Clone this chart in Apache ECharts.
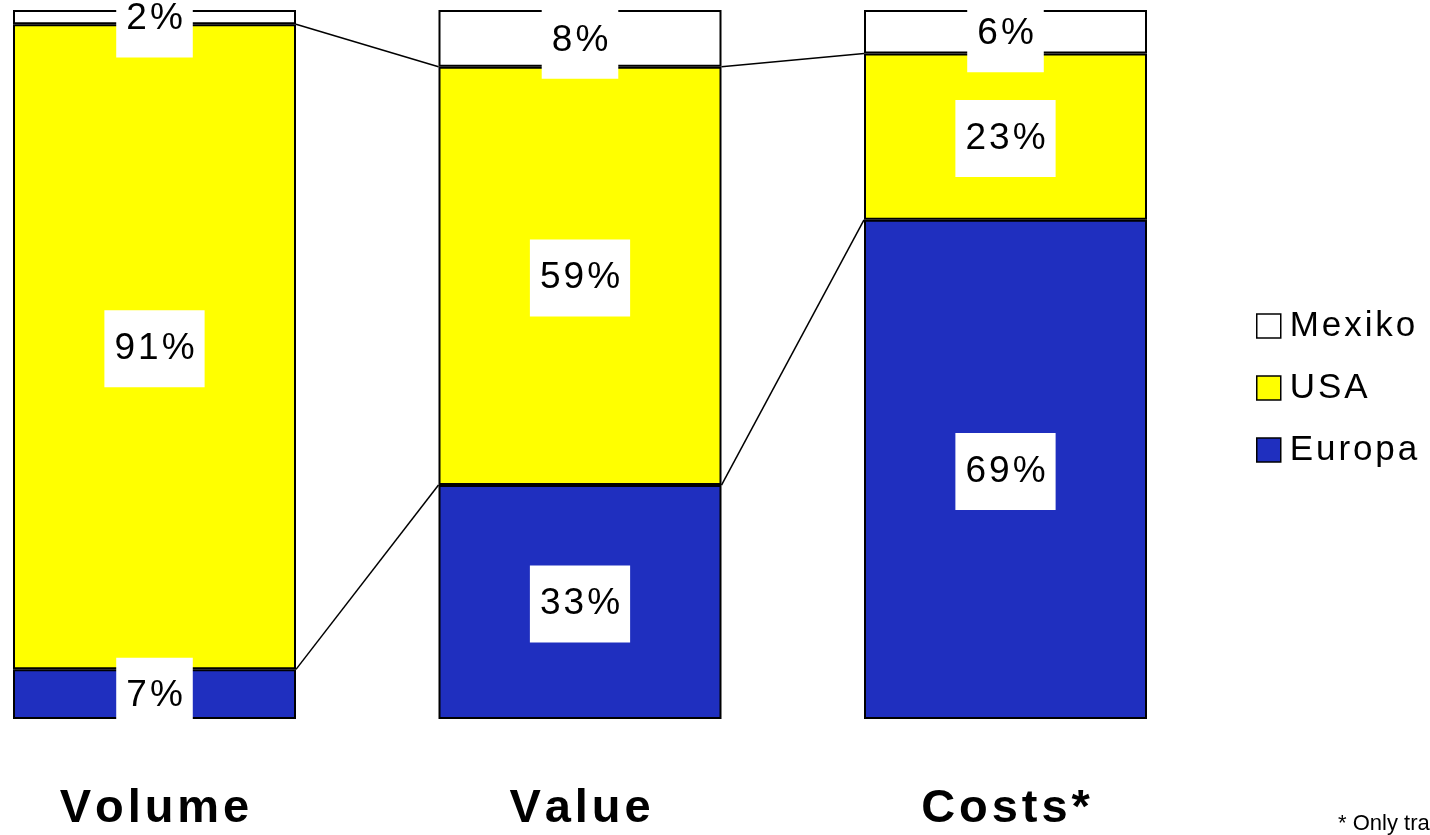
<!DOCTYPE html>
<html>
<head>
<meta charset="utf-8">
<script src="https://cdn.jsdelivr.net/npm/echarts@6/dist/echarts.min.js"></script>
<style>
  html, body { margin: 0; padding: 0; background: #fff; }
  #chart { width: 1430px; height: 835px; }
</style>
</head>
<body>
<div id="chart"></div>
<script>
// Shares per region (percent), one entry per category
const categories = ['Volume', 'Value', 'Costs*'];
const europa = [7, 33, 69];
const usa = [91, 59, 23];
const mexiko = [2, 8, 6];
const footnote = '* Only transport costs';

const FONT = '"Liberation Sans", Arial, sans-serif';
const BAR_W = 283;
const COLORS = { Europa: '#1f2fbf', USA: '#ffff00', Mexiko: '#ffffff' };

// Slightly widened glyph spacing, as in the printed slide
const spaced = (s, n) => s.split('').join('\u200a'.repeat(n));

// Each column is drawn as a 100% stack: segments are scaled by the column total
const totals = categories.map((_, i) => europa[i] + usa[i] + mexiko[i]);
const toShares = arr => arr.map((v, i) => ({ value: v / totals[i] * 100, raw: v }));

const labelStyle = {
  show: true,
  position: 'inside',
  offset: [0, 2],
  formatter: p => spaced(p.data.raw + '%', 1),
  fontFamily: FONT,
  fontSize: 37,
  color: '#000',
  backgroundColor: '#fff',
  padding: [23, 10, 13, 10],
  lineHeight: 41
};

function barSeries(name, arr) {
  return {
    name: name,
    type: 'bar',
    stack: 'total',
    barWidth: BAR_W,
    clip: false,
    data: toShares(arr),
    itemStyle: { color: COLORS[name], borderColor: '#000', borderWidth: 2 },
    label: labelStyle,
    emphasis: { disabled: true }
  };
}

// Connector lines between neighbouring columns at the stack boundaries
const europaShare = toShares(europa).map(d => d.value);
const usaTopShare = toShares(usa).map((d, i) => d.value + europaShare[i]);
const connectorData = [];
for (let i = 0; i < categories.length - 1; i++) {
  connectorData.push([i, europaShare[i], europaShare[i + 1], usaTopShare[i], usaTopShare[i + 1]]);
}

const chart = echarts.init(document.getElementById('chart'), null, { renderer: 'canvas' });
chart.setOption({
  animation: false,
  backgroundColor: '#fff',
  // categories sit on the grid edges; bars reach half their width beyond them
  grid: { left: 154.5, right: 424.5, top: 10, bottom: 116 },
  xAxis: {
    type: 'category',
    data: categories,
    boundaryGap: false,
    axisLine: { show: false },
    axisTick: { show: false },
    splitLine: { show: false },
    axisLabel: {
      margin: 65,
      fontFamily: FONT,
      fontSize: 47,
      lineHeight: 50,
      fontWeight: 'bold',
      color: '#000',
      formatter: v => spaced(v, 1)
    }
  },
  yAxis: { type: 'value', min: 0, max: 100, show: false },
  legend: {
    orient: 'vertical',
    left: 1251,
    top: 299,
    itemWidth: 24,
    itemHeight: 24,
    itemGap: 18,
    icon: 'rect',
    data: ['Mexiko', 'USA', 'Europa'],
    formatter: name => spaced(name, 1),
    itemStyle: { borderColor: '#000', borderWidth: 1.5 },
    textStyle: { fontFamily: FONT, fontSize: 35, color: '#000', lineHeight: 40, padding: [4, 0, 0, 4] },
    selectedMode: false
  },
  series: [
    barSeries('Europa', europa),
    barSeries('USA', usa),
    barSeries('Mexiko', mexiko),
    {
      type: 'custom',
      data: connectorData,
      silent: true,
      clip: false,
      z: 1,
      renderItem: function (params, api) {
        const i = api.value(0);
        const lines = [];
        [[1, 2], [3, 4]].forEach(([a, b]) => {
          const p1 = api.coord([i, api.value(a)]);
          const p2 = api.coord([i + 1, api.value(b)]);
          lines.push({
            type: 'line',
            shape: { x1: p1[0] + BAR_W / 2, y1: p1[1], x2: p2[0] - BAR_W / 2, y2: p2[1] },
            style: { stroke: '#000', lineWidth: 1.5 }
          });
        });
        return { type: 'group', children: lines };
      }
    }
  ],
  graphic: [{
    type: 'text',
    left: 1338,
    top: 813,
    style: { text: footnote, fontFamily: FONT, fontSize: 22, fill: '#000' }
  }]
});
</script>
</body>
</html>
